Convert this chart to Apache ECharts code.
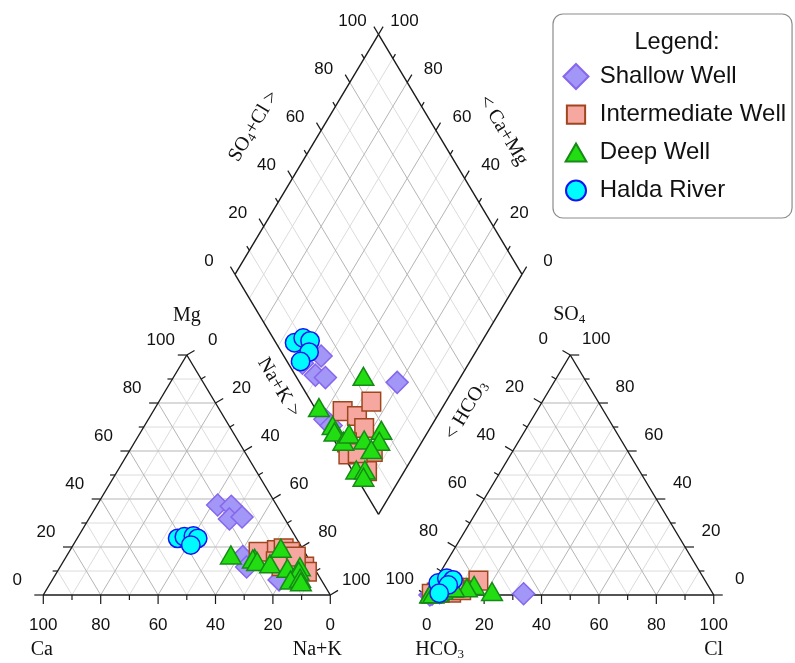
<!DOCTYPE html>
<html>
<head>
<meta charset="utf-8">
<style>html,body{margin:0;padding:0;background:#fff;}#chart{width:795px;height:663px;}</style>
<script src="https://cdn.jsdelivr.net/npm/echarts@6.0.0/dist/echarts.min.js"></script>
</head>
<body>
<div id="chart"></div>
<script>
// ---------------- DATA (percent of meq) ----------------
const seriesNames = ['Shallow Well', 'Intermediate Well', 'Deep Well', 'Halda River'];

const shallowMg  = [37.5, 37, 31.7, 32.5, 16, 11.7, 6.3];
const shallowNaK = [42, 47, 49, 53, 61.5, 65, 79];
const shallowSO4 = [1, 3, 1.5, 2, 0, 0.3, 0.5];
const shallowCl  = [4, 10, 5.5, 8, 1.1, 1.7, 33.5];

const interMg  = [18, 18.75, 19.5, 18, 11.8, 9.7, 14, 12, 16];
const interNaK = [66, 72, 74, 77, 85, 87, 74, 77, 80];
const interSO4 = [1, 3, 6, 2, 3, 1, 1, 0.5, 2];
const interCl  = [8, 10, 15, 11, 8, 4, 3, 1.5, 3.5];

const deepMg  = [16.7, 15.3, 15, 14, 13, 19.5, 11.1, 11.8, 7.6, 10, 6.25, 7, 5.5];
const deepNaK = [57, 66, 65.5, 67.5, 72.5, 73, 79.5, 83.5, 85, 84, 83, 86, 87];
const deepSO4 = [0.5, 1.5, 0.5, 0.5, 1, 2, 3, 4, 3, 3, 0.5, 1, 0.5];
const deepCl  = [1, 22, 2, 1.3, 2, 4.5, 7.5, 14.5, 12.5, 8, 1, 3.5, 2];

const haldaMg  = [23.6, 24.3, 24.6, 23.6, 20.8];
const haldaNaK = [35, 37, 40, 42, 41];
const haldaSO4 = [5, 7, 6.3, 4.2, 0.7];
const haldaCl  = [1.5, 3.5, 6, 5.4, 4];

const tickValues = [0, 10, 20, 30, 40, 50, 60, 70, 80, 90, 100];
const tickLabels = ['0', '20', '40', '60', '80', '100'];
const gridValues = [10, 20, 30, 40, 50, 60, 70, 80, 90];

// ---------------- LAYOUT (geometry, not data) ----------------
const SIDE = 100, GAP = 33.6, KV = 0.8362;
const PX = 2.87;               // pixels per unit
const ORIGIN_X = 43.3, ORIGIN_Y = 595;
const W = 795, H = 663;
const AX = SIDE + GAP;
const BD = [SIDE + GAP / 2, GAP * KV];
const DL = [BD[0] - SIDE / 2, BD[1] + SIDE * KV];

function cat(mg, nak) { return [nak + mg / 2, mg * KV]; }
function an(so4, cl) { return [AX + cl + so4 / 2, so4 * KV]; }
function dia(nak, s) { return [DL[0] + (s + nak) / 2, DL[1] + (s - nak) * KV]; }

// ---------------- STYLES ----------------
const NUM = { fontFamily: 'Liberation Sans', fontSize: 17, fill: '#111' };
const RICH = { s: { fontSize: 13, fontFamily: 'Liberation Serif', verticalAlign: 'top', padding: [9, 0, 0, 0], fill: '#111' } };
const TTL = { fontFamily: 'Liberation Serif', fontSize: 20, fill: '#111', lineHeight: 22, rich: RICH };
const ROT = Math.atan2(SIDE * KV, SIDE / 2);

// ---------------- segments ----------------
const gridMajor = [], gridMinor = [], edges = [], ticks = [];
function seg(arr, a, b) { arr.push([a[0], a[1], b[0], b[1]]); }

gridValues.forEach(v => {
  const arr = (v % 20 === 0) ? gridMajor : gridMinor;
  seg(arr, cat(v, 0), cat(v, 100 - v));
  seg(arr, cat(0, v), cat(100 - v, v));
  seg(arr, cat(0, 100 - v), cat(100 - v, 0));
  seg(arr, an(v, 0), an(v, 100 - v));
  seg(arr, an(0, v), an(100 - v, v));
  seg(arr, an(0, 100 - v), an(100 - v, 0));
  seg(arr, dia(0, v), dia(100, v));
  seg(arr, dia(v, 0), dia(v, 100));
});

seg(edges, cat(0, 0), cat(0, 100)); seg(edges, cat(0, 100), cat(100, 0)); seg(edges, cat(100, 0), cat(0, 0));
seg(edges, an(0, 0), an(0, 100)); seg(edges, an(0, 100), an(100, 0)); seg(edges, an(100, 0), an(0, 0));
seg(edges, dia(0, 0), dia(0, 100)); seg(edges, dia(0, 100), dia(100, 100));
seg(edges, dia(100, 100), dia(100, 0)); seg(edges, dia(100, 0), dia(0, 0));

const PERP = [0.858, 0.513];
function tick(p, d, major) {
  const L = (major ? 9 : 5) / PX;
  ticks.push([p[0], p[1], p[0] + d[0] * L, p[1] + d[1] * L]);
}
tickValues.forEach(v => {
  const mj = v % 20 === 0;
  tick(cat(0, v), [0, -1], mj);
  tick(cat(v, 0), [-1, 0], mj);
  tick(cat(100 - v, v), [PERP[0], PERP[1]], mj);
  tick(an(0, v), [0, -1], mj);
  tick(an(v, 0), [-PERP[0], PERP[1]], mj);
  tick(an(v, 100 - v), [1, 0], mj);
  tick(dia(0, v), [-0.513, 0.858], mj);
  tick(dia(v, 100), [0.513, 0.858], mj);
});

// ---------------- texts ----------------
const TEXTS = [];
function txt(p, dx, dy, text, style, rot) { TEXTS.push({ p, dx, dy, text, style, rot: rot || 0 }); }
tickLabels.forEach(s => {
  const v = +s;
  txt(cat(0, 100 - v), 0, 30, s, NUM);          // Ca
  txt(cat(v, 0), -26, -15, s, NUM);             // Mg
  txt(cat(100 - v, v), 26, -15, s, NUM);        // Na+K
  txt(an(0, v), 0, 30, s, NUM);                 // Cl
  txt(an(100 - v, 0), -27, -15.5, s, NUM);      // HCO3
  txt(an(v, 100 - v), 26, -15.5, s, NUM);       // SO4
  txt(dia(0, v), -26, -13, s, NUM);             // SO4+Cl
  txt(dia(100 - v, 100), 26, -13, s, NUM);      // Ca+Mg
});
txt(cat(100, 0), 0, -39, 'Mg', TTL);
txt(cat(0, 0), -1.5, 55, 'Ca', TTL);
txt(cat(0, 100), -13, 55, 'Na+K', TTL);
txt(an(100, 0), -1, -40, 'SO{s|4}', TTL);
txt(an(0, 0), 13, 55, 'HCO{s|3}', TTL);
txt(an(0, 100), 0, 55, 'Cl', TTL);
txt(dia(0, 50), -53, -28, 'SO{s|4}+Cl >', TTL, ROT);
txt(dia(50, 100), 53, -24, '< Ca+Mg', TTL, -ROT);
txt(dia(50, 0), -28, -7, 'Na+K >', TTL, -ROT);
txt(dia(100, 50), 16, 16, '< HCO{s|3}', TTL, ROT);

// ---------------- series helpers ----------------
function lineSeries(data, color, width, z) {
  return {
    type: 'custom', coordinateSystem: 'cartesian2d', silent: true, z: z, animation: false,
    data: data, encode: { x: [0, 2], y: [1, 3] },
    renderItem: function (params, api) {
      const a = api.coord([api.value(0), api.value(1)]);
      const b = api.coord([api.value(2), api.value(3)]);
      return { type: 'line', shape: { x1: a[0], y1: a[1], x2: b[0], y2: b[1] },
               style: { stroke: color, lineWidth: width } };
    }
  };
}
function points(mg, nak, so4, cl) {
  const out = [];
  mg.forEach((m, i) => out.push(cat(m, nak[i])));
  so4.forEach((s, i) => out.push(an(s, cl[i])));
  nak.forEach((n, i) => out.push(dia(n, so4[i] + cl[i])));
  return out;
}
const SYM = {
  diamond: 'path://M-1,-1M1,1M0,-1L1,0L0,1L-1,0Z',
  square: 'path://M-1,-1M1,1M-0.73,-0.73L0.73,-0.73L0.73,0.73L-0.73,0.73Z',
  triangle: 'path://M-1,-1M1,1M0,-0.72L0.83,0.72L-0.83,0.72Z',
  circle: 'path://M-1,-1M1,1M0.8,0A0.8,0.8,0,1,1,-0.8,0A0.8,0.8,0,1,1,0.8,0Z'
};
function scatter(name, sym, size, data, fill, border, z) {
  return { name, type: 'scatter', symbol: sym, symbolSize: size, data, z, animation: false,
    itemStyle: { color: fill, borderColor: border, borderWidth: 1.5, opacity: 1 },
    emphasis: { disabled: true } };
}

const chart = echarts.init(document.getElementById('chart'), null, { renderer: 'canvas' });
chart.setOption({
  backgroundColor: '#fff',
  animation: false,
  grid: { left: 0, right: 0, top: 0, bottom: 0, containLabel: false },
  xAxis: { type: 'value', min: -ORIGIN_X / PX, max: (W - ORIGIN_X) / PX, show: false },
  yAxis: { type: 'value', min: -(H - ORIGIN_Y) / PX, max: ORIGIN_Y / PX, show: false },
  legend: {
    data: seriesNames, orient: 'vertical', left: 553, top: 14,
    itemWidth: 37.5, itemHeight: 25, itemGap: 11,
    padding: [49, 6, 14, 9.5],
    backgroundColor: '#fff', borderColor: '#8c8c8c', borderWidth: 1.2, borderRadius: 10,
    textStyle: { fontSize: 24, fontFamily: 'Liberation Sans', color: '#111', lineHeight: 25 },
    selectedMode: false
  },
  graphic: [{ type: 'text', x: 677, y: 43, z: 20,
    style: { text: 'Legend:', fontSize: 23.5, fontFamily: 'Liberation Sans', fill: '#111', align: 'center', verticalAlign: 'middle' } }],
  series: [
    lineSeries(gridMinor, '#dcdcdc', 1, 1),
    lineSeries(gridMajor, '#b5b5b5', 1, 1),
    lineSeries(edges, '#1a1a1a', 1.4, 2),
    lineSeries(ticks, '#1a1a1a', 1.2, 2),
    {
      type: 'custom', coordinateSystem: 'cartesian2d', silent: true, z: 3, animation: false,
      data: TEXTS.map(t => [t.p[0], t.p[1]]),
      renderItem: function (params, api) {
        const t = TEXTS[params.dataIndex];
        const c = api.coord([api.value(0), api.value(1)]);
        return { type: 'text', x: c[0] + t.dx, y: c[1] + t.dy, rotation: t.rot,
          style: Object.assign({ text: t.text, align: 'center', verticalAlign: 'middle' }, t.style) };
      }
    },
    scatter(seriesNames[0], SYM.diamond, 22, points(shallowMg, shallowNaK, shallowSO4, shallowCl), '#a296f6', '#8766ee', 5),
    scatter(seriesNames[1], SYM.square, 25.5, points(interMg, interNaK, interSO4, interCl), '#f5a7a0', '#a0461e', 6),
    scatter(seriesNames[2], SYM.triangle, 25, points(deepMg, deepNaK, deepSO4, deepCl), '#22dd11', '#168a16', 7),
    scatter(seriesNames[3], SYM.circle, 23, points(haldaMg, haldaNaK, haldaSO4, haldaCl), '#00fbff', '#1414ee', 8)
  ]
});
</script>
</body>
</html>
